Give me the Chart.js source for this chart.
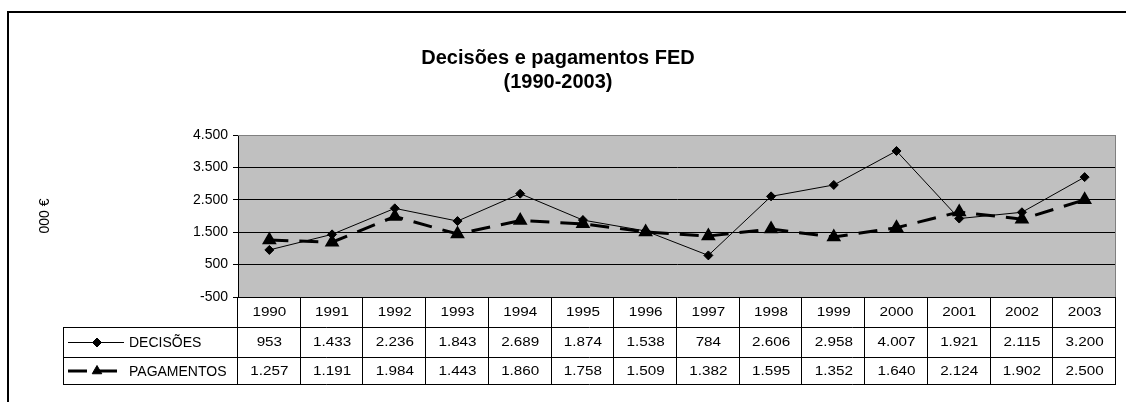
<!DOCTYPE html>
<html>
<head>
<meta charset="utf-8">
<title>Decisões e pagamentos FED</title>
<script src="https://cdn.jsdelivr.net/npm/chart.js@4/dist/chart.umd.min.js"></script>
<style>
  body { margin: 0; background: #fff; }
  canvas { display: block; }
</style>
</head>
<body>
<canvas id="fedChart" width="1126" height="402"></canvas>
<script>
const years = ['1990', '1991', '1992', '1993', '1994', '1995', '1996',
               '1997', '1998', '1999', '2000', '2001', '2002', '2003'];
const decisoes = [953, 1433, 2236, 1843, 2689, 1874, 1538, 784, 2606, 2958, 4007, 1921, 2115, 3200];
const pagamentos = [1257, 1191, 1984, 1443, 1860, 1758, 1509, 1382, 1595, 1352, 1640, 2124, 1902, 2500];
const seriesNames = ['DECISÕES', 'PAGAMENTOS'];
const yMin = -500, yMax = 4500, yStep = 1000;

const FONT = '"Liberation Sans", Arial, sans-serif';

// 1234 -> "1.234"
function fmt(v) {
    return String(v).replace(/\B(?=(\d{3})+(?!\d))/g, '.');
}

function wideText(ctx, text, cx, cy, sx) {
    ctx.save();
    ctx.translate(cx, cy);
    ctx.scale(sx, 1);
    ctx.fillText(text, 0, 0);
    ctx.restore();
}

// grey plot area + outer frame
const plotFrame = {
    id: 'plotFrame',
    beforeDraw(chart) {
        const { ctx, chartArea: a } = chart;
        ctx.save();
        ctx.fillStyle = '#c0c0c0';
        ctx.fillRect(a.left, a.top, a.right - a.left, a.bottom - a.top);
        ctx.strokeStyle = '#000';
        ctx.lineWidth = 2;
        ctx.beginPath();
        ctx.moveTo(8, 420);
        ctx.lineTo(8, 12);
        ctx.lineTo(1140, 12);
        ctx.stroke();
        ctx.restore();
    },
    afterDraw(chart) {
        const { ctx, chartArea: a } = chart;
        ctx.save();
        ctx.strokeStyle = '#808080';
        ctx.lineWidth = 1;
        ctx.beginPath();
        ctx.moveTo(a.left, a.top + 0.5);
        ctx.lineTo(a.right - 0.5, a.top + 0.5);
        ctx.lineTo(a.right - 0.5, a.bottom);
        ctx.stroke();
        ctx.restore();
    }
};

// data table under the plot, columns taken from the x scale
const dataTable = {
    id: 'dataTable',
    afterDraw(chart) {
        const { ctx, chartArea: a } = chart;
        const xs = chart.scales.x;
        const colW = (a.right - a.left) / years.length;
        const rows = [a.bottom, a.bottom + 30, a.bottom + 60, a.bottom + 87];
        const legLeft = 63;

        ctx.save();
        ctx.strokeStyle = '#000';
        ctx.lineWidth = 1;
        ctx.beginPath();
        for (let r = 1; r < rows.length; r++) {
            ctx.moveTo(legLeft, rows[r] + 0.5);
            ctx.lineTo(a.right, rows[r] + 0.5);
        }
        for (let i = 0; i <= years.length; i++) {
            const x = Math.round(a.left + i * colW) - 0.5;
            ctx.moveTo(x, rows[0]);
            ctx.lineTo(x, rows[3]);
        }
        ctx.moveTo(legLeft + 0.5, rows[1]);
        ctx.lineTo(legLeft + 0.5, rows[3]);
        ctx.stroke();

        ctx.fillStyle = '#000';
        ctx.textAlign = 'center';
        ctx.textBaseline = 'middle';
        ctx.font = '12.5px ' + FONT;
        const series = chart.data.datasets.map(ds => ds.data);
        years.forEach((yr, i) => {
            const cx = xs.getPixelForValue(i);
            wideText(ctx, yr, cx, (rows[0] + rows[1]) / 2 + 1, 1.22);
            series.forEach((d, s) => {
                wideText(ctx, fmt(d[i]), cx, (rows[s + 1] + rows[s + 2]) / 2 + 1, 1.22);
            });
        });

        // legend keys
        chart.data.datasets.forEach((ds, s) => {
            const cy = (rows[s + 1] + rows[s + 2]) / 2 + 0.5;
            ctx.save();
            ctx.strokeStyle = ds.borderColor;
            ctx.lineWidth = ds.borderWidth;
            ctx.setLineDash(ds.borderDash || []);
            ctx.beginPath();
            ctx.moveTo(68, cy);
            ctx.lineTo(124, cy);
            ctx.stroke();
            ctx.setLineDash([]);
            ctx.fillStyle = ds.pointBackgroundColor;
            ctx.lineWidth = 1;
            Chart.helpers.drawPoint(ctx, {
                pointStyle: ds.pointStyle, radius: ds.pointRadius, rotation: 0, borderWidth: 1
            }, 97, cy);
            ctx.restore();

            ctx.textAlign = 'left';
            ctx.font = '14px ' + FONT;
            ctx.fillText(ds.label, 129, cy + 1);
        });
        ctx.restore();
    }
};

new Chart(document.getElementById('fedChart'), {
    type: 'line',
    data: {
        labels: years,
        datasets: [{
            label: seriesNames[0],
            data: decisoes,
            borderColor: '#000',
            borderWidth: 1,
            pointStyle: 'rectRot',
            pointRadius: 4.5,
            pointBackgroundColor: '#000',
            pointBorderColor: '#000',
            tension: 0
        }, {
            label: seriesNames[1],
            data: pagamentos,
            borderColor: '#000',
            borderWidth: 3,
            borderDash: [19, 11],
            pointStyle: 'triangle',
            pointRadius: 5.5,
            pointBackgroundColor: '#000',
            pointBorderColor: '#000',
            tension: 0
        }]
    },
    options: {
        responsive: false,
        animation: false,
        layout: { padding: { top: 0, left: 0, right: 10, bottom: 105 } },
        plugins: {
            legend: { display: false },
            tooltip: { enabled: false },
            title: {
                display: true,
                text: ['Decisões e pagamentos FED', '(1990-2003)'],
                color: '#000',
                font: { family: FONT, size: 20, weight: 'bold', lineHeight: 1.2 },
                padding: { top: 46, bottom: 41 }
            }
        },
        scales: {
            x: {
                display: false,
                offset: true
            },
            y: {
                min: yMin,
                max: yMax,
                afterFit(scale) { scale.width = 238; },
                ticks: {
                    stepSize: yStep,
                    color: '#000',
                    padding: 5,
                    font: { family: FONT, size: 14 },
                    callback: v => fmt(v)
                },
                grid: {
                    color: c => (c.tick && c.tick.value === yMax) ? '#808080' : '#000',
                    tickColor: '#000',
                    tickLength: 5
                },
                border: { color: '#000' },
                title: {
                    display: true,
                    text: '000 €',
                    color: '#000',
                    font: { family: FONT, size: 14 },
                    padding: { top: 37, bottom: 0 }
                }
            }
        }
    },
    plugins: [plotFrame, dataTable]
});
</script>
</body>
</html>
